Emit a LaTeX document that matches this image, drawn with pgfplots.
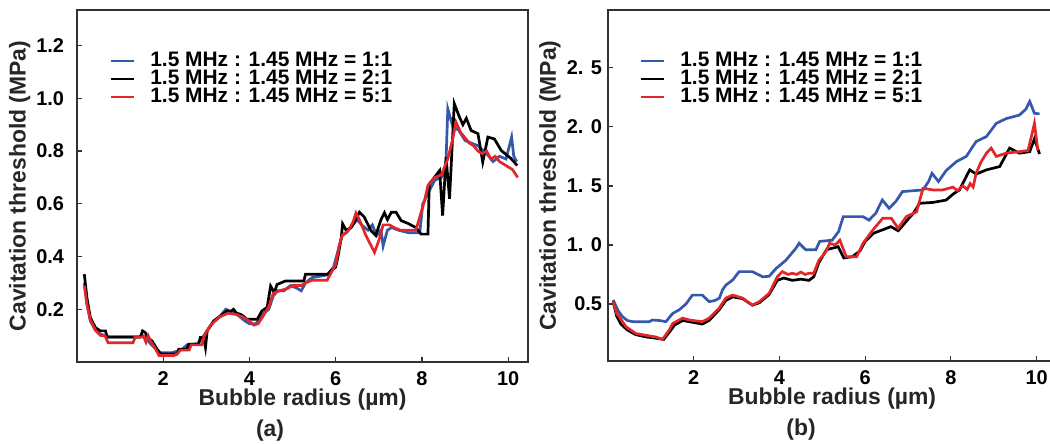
\documentclass[border=0pt]{standalone}
\usepackage{pgfplots}
\pgfplotsset{compat=1.18}
\usepackage{fontspec}
\setmainfont{Liberation Sans}
\definecolor{cblue}{RGB}{52,88,170}
\definecolor{cred}{RGB}{226,38,42}
\definecolor{axgray}{RGB}{50,50,50}

\pgfplotstableread{
x y
0.17 0.333
0.23 0.244
0.31 0.168
0.43 0.13
0.54 0.118
0.66 0.118
0.70 0.095
1.47 0.095
1.52 0.118
1.58 0.112
1.64 0.093
1.74 0.08
1.86 0.048
1.95 0.03
2.32 0.03
2.36 0.048
2.55 0.048
2.59 0.067
2.82 0.067
2.86 0.093
2.94 0.093
2.98 0.055
3.02 0.118
3.17 0.156
3.33 0.175
3.48 0.194
3.55 0.19
3.63 0.2
3.70 0.185
3.79 0.181
3.85 0.175
3.94 0.162
4.18 0.162
4.29 0.194
4.41 0.207
4.49 0.288
4.55 0.27
4.60 0.275
4.64 0.294
4.83 0.307
5.26 0.307
5.30 0.333
5.82 0.333
5.89 0.346
6.00 0.36
6.05 0.397
6.13 0.473
6.16 0.524
6.24 0.50
6.36 0.51
6.47 0.542
6.55 0.568
6.66 0.55
6.82 0.498
6.93 0.48
7.05 0.54
7.13 0.566
7.20 0.54
7.29 0.568
7.40 0.568
7.52 0.536
7.67 0.526
7.86 0.51
7.98 0.485
8.14 0.485
8.17 0.675
8.41 0.726
8.48 0.555
8.56 0.777
8.64 0.619
8.75 0.98
8.87 0.929
8.95 0.90
9.03 0.924
9.14 0.878
9.30 0.866
9.41 0.758
9.53 0.853
9.68 0.846
9.84 0.802
10.07 0.771
10.21 0.745
}\LeftBlack

\pgfplotstableread{
x y
0.17 0.29
0.23 0.22
0.31 0.16
0.43 0.12
0.55 0.10
0.65 0.10
0.72 0.073
1.30 0.073
1.35 0.095
1.55 0.095
1.60 0.075
1.65 0.10
1.72 0.075
1.82 0.05
1.90 0.025
2.25 0.025
2.32 0.03
2.40 0.045
2.60 0.045
2.65 0.065
2.90 0.065
2.95 0.10
3.10 0.14
3.30 0.17
3.50 0.185
3.70 0.18
3.85 0.17
4.00 0.155
4.10 0.14
4.20 0.145
4.30 0.17
4.45 0.21
4.55 0.26
4.70 0.27
4.90 0.28
5.00 0.29
5.20 0.29
5.30 0.30
5.45 0.31
5.80 0.31
5.90 0.34
6.00 0.37
6.08 0.44
6.15 0.48
6.30 0.50
6.40 0.53
6.47 0.565
6.55 0.54
6.70 0.48
6.90 0.416
7.00 0.46
7.10 0.52
7.25 0.52
7.35 0.51
7.50 0.50
7.70 0.50
7.86 0.50
7.95 0.55
8.06 0.612
8.14 0.67
8.30 0.70
8.45 0.71
8.60 0.77
8.72 0.85
8.79 0.91
8.90 0.87
9.00 0.85
9.10 0.83
9.20 0.82
9.30 0.80
9.40 0.79
9.50 0.80
9.60 0.77
9.70 0.78
9.80 0.76
10.00 0.74
10.10 0.73
10.22 0.70
}\LeftRed

\pgfplotstableread{
x y
0.17 0.30
0.23 0.22
0.31 0.155
0.43 0.12
0.55 0.105
0.66 0.10
0.72 0.095
1.45 0.095
1.52 0.10
1.60 0.09
1.70 0.07
1.82 0.05
1.90 0.035
2.20 0.035
2.30 0.04
2.45 0.05
2.55 0.065
2.80 0.07
2.90 0.09
3.00 0.115
3.15 0.15
3.30 0.17
3.45 0.20
3.60 0.19
3.75 0.175
3.90 0.155
4.00 0.145
4.15 0.145
4.30 0.18
4.45 0.20
4.55 0.25
4.65 0.27
4.80 0.27
4.95 0.29
5.10 0.28
5.20 0.27
5.30 0.30
5.45 0.32
5.80 0.33
5.95 0.36
6.05 0.42
6.15 0.48
6.25 0.49
6.40 0.52
6.50 0.54
6.60 0.52
6.75 0.50
6.85 0.52
6.95 0.48
7.05 0.50
7.10 0.44
7.20 0.50
7.30 0.51
7.45 0.50
7.70 0.49
7.95 0.49
8.02 0.60
8.14 0.64
8.30 0.69
8.45 0.70
8.55 0.72
8.60 0.96
8.72 0.89
8.85 0.88
9.00 0.84
9.15 0.83
9.30 0.82
9.50 0.79
9.65 0.76
9.80 0.78
9.95 0.77
10.08 0.853
10.13 0.78
10.20 0.76
}\LeftBlue

\pgfplotstableread{
x y
0.12 0.534
0.24 0.44
0.34 0.392
0.45 0.36
0.58 0.35
0.96 0.35
1.04 0.364
1.20 0.36
1.35 0.35
1.51 0.42
1.66 0.45
1.82 0.50
1.97 0.575
2.20 0.575
2.36 0.52
2.50 0.53
2.60 0.55
2.67 0.618
2.75 0.66
2.91 0.703
3.06 0.774
3.37 0.774
3.61 0.73
3.76 0.735
3.92 0.80
4.15 0.87
4.38 0.97
4.46 1.014
4.61 0.96
4.85 0.96
4.94 1.03
5.23 1.04
5.38 1.113
5.49 1.24
5.95 1.24
6.09 1.21
6.25 1.27
6.40 1.381
6.56 1.31
6.72 1.37
6.87 1.452
7.35 1.466
7.48 1.537
7.56 1.607
7.71 1.537
7.89 1.63
8.13 1.706
8.36 1.75
8.59 1.876
8.83 1.918
9.06 2.03
9.29 2.07
9.60 2.10
9.75 2.15
9.84 2.215
9.95 2.115
10.07 2.11
}\RightBlue

\pgfplotstableread{
x y
0.12 0.52
0.20 0.42
0.26 0.392
0.42 0.307
0.65 0.25
0.88 0.235
1.12 0.22
1.27 0.20
1.43 0.28
1.51 0.335
1.74 0.38
1.90 0.364
2.20 0.35
2.36 0.38
2.59 0.463
2.75 0.55
2.91 0.575
3.14 0.55
3.37 0.49
3.53 0.52
3.76 0.59
3.95 0.73
4.07 0.774
4.20 0.75
4.30 0.76
4.40 0.75
4.50 0.77
4.60 0.75
4.69 0.76
4.80 0.76
4.92 0.87
5.08 0.94
5.17 1.014
5.30 1.00
5.41 1.04
5.56 0.90
5.80 0.90
5.95 1.014
6.18 1.127
6.41 1.226
6.61 1.226
6.77 1.141
6.96 1.24
7.20 1.28
7.35 1.48
7.58 1.466
7.81 1.466
8.05 1.49
8.15 1.46
8.28 1.50
8.38 1.47
8.45 1.52
8.52 1.49
8.59 1.607
8.70 1.70
8.83 1.777
8.94 1.82
9.06 1.75
9.29 1.777
9.60 1.79
9.80 1.80
9.90 1.95
9.95 2.03
10.03 1.80
}\RightRed

\pgfplotstableread{
x y
0.12 0.52
0.20 0.40
0.30 0.33
0.45 0.28
0.65 0.24
0.90 0.22
1.12 0.21
1.30 0.20
1.45 0.27
1.55 0.32
1.74 0.36
1.90 0.35
2.20 0.33
2.36 0.36
2.59 0.45
2.75 0.53
2.91 0.56
3.14 0.545
3.37 0.49
3.53 0.51
3.76 0.58
3.95 0.70
4.10 0.72
4.30 0.70
4.50 0.71
4.69 0.70
4.80 0.73
4.92 0.85
5.10 0.96
5.37 0.985
5.50 0.89
5.70 0.90
5.88 0.95
6.00 1.03
6.20 1.10
6.40 1.127
6.60 1.155
6.77 1.12
6.96 1.20
7.13 1.27
7.27 1.353
7.58 1.36
7.89 1.38
8.05 1.43
8.20 1.466
8.44 1.636
8.59 1.60
8.83 1.636
9.14 1.664
9.37 1.82
9.60 1.777
9.84 1.79
9.95 1.90
10.07 1.77
}\RightBlack

\pgfplotsset{
  mystyle/.style={
    scale only axis,
    clip=false,
    axis line style={axgray, line width=0.75bp},
    tick style={axgray, line width=0.6bp},
    major tick length=2.5bp,
    tick align=inside,
    tick pos=left,
    xmin=0, xmax=10.5,
    xtick={2,4,6,8,10},
    /pgf/number format/assume math mode=true,
    tick label style={font=\fontsize{10}{12}\selectfont\bfseries},
    xticklabel style={yshift=-1.5bp},
    label style={font=\fontsize{11.5}{13}\selectfont\bfseries, color=black!85},
    legend style={draw=none, fill=none, anchor=north west,
      inner sep=0pt, outer sep=0pt,
      font=\fontsize{10.5}{11}\selectfont\bfseries,
      nodes={inner sep=0pt, outer sep=0pt, text height=7bp, text depth=2bp},
      row sep=0pt,
      /tikz/every odd column/.append style={column sep=7.5bp}},
    legend image code/.code={\draw[#1, line width=1.2bp] (0bp,0bp) -- (11.5bp,0bp);},
    legend cell align=left,
  },
}

\begin{document}
\begin{tikzpicture}
\begin{axis}[mystyle,
  at={(38.5bp,41bp)}, anchor=south west,
  width=225.5bp, height=176bp,
  xmax=10.46,
  ymin=0, ymax=1.335,
  ytick={0.2,0.4,0.6,0.8,1.0,1.2},
  yticklabels={0.2,0.4,0.6,0.8,1.0,1.2},
  yticklabel style={xshift=-3bp},
  xlabel={Bubble radius (µm)},
  ylabel={Cavitation threshold (MPa)},
  xlabel style={at={(axis description cs:0.5,-0.108)}, anchor=center},
  ylabel style={at={(axis description cs:-0.127,0.5)}, anchor=center},
  legend style={at={(axis description cs:0.073,0.88)}},
]
\addplot[cblue, line width=1.35bp] table {\LeftBlue};
\addlegendentry{1.5 MHz : 1.45 MHz = 1:1}
\addplot[black, line width=1.35bp] table {\LeftBlack};
\addlegendentry{1.5 MHz : 1.45 MHz = 2:1}
\addplot[cred, line width=1.35bp] table {\LeftRed};
\addlegendentry{1.5 MHz : 1.45 MHz = 5:1}
\node[font=\fontsize{11.5}{13}\selectfont\bfseries, text=black!85] at (axis description cs:0.428,-0.196) {(a)};
\end{axis}

\begin{axis}[mystyle,
  at={(304bp,41.5bp)}, anchor=south west,
  width=225bp, height=175.5bp,
  ymin=0.017, ymax=2.99,
  ytick={0.5,1.0,1.5,2.0,2.5},
  yticklabels={0.5,1. 0,1. 5,2. 0,2. 5},
  yticklabel style={xshift=0.5bp},
  xlabel={Bubble radius (µm)},
  ylabel={Cavitation threshold (MPa)},
  xlabel style={at={(axis description cs:0.498,-0.108)}, anchor=center},
  ylabel style={at={(axis description cs:-0.129,0.5)}, anchor=center},
  legend style={at={(axis description cs:0.071,0.88)}},
]
\addplot[cblue, line width=1.35bp] table {\RightBlue};
\addlegendentry{1.5 MHz : 1.45 MHz = 1:1}
\addplot[black, line width=1.35bp] table {\RightBlack};
\addlegendentry{1.5 MHz : 1.45 MHz = 2:1}
\addplot[cred, line width=1.35bp] table {\RightRed};
\addlegendentry{1.5 MHz : 1.45 MHz = 5:1}
\node[font=\fontsize{11.5}{13}\selectfont\bfseries, text=black!85] at (axis description cs:0.429,-0.196) {(b)};
\end{axis}
\pgfresetboundingbox
\useasboundingbox (0,0) rectangle (525bp,222bp);
\end{tikzpicture}
\end{document}
